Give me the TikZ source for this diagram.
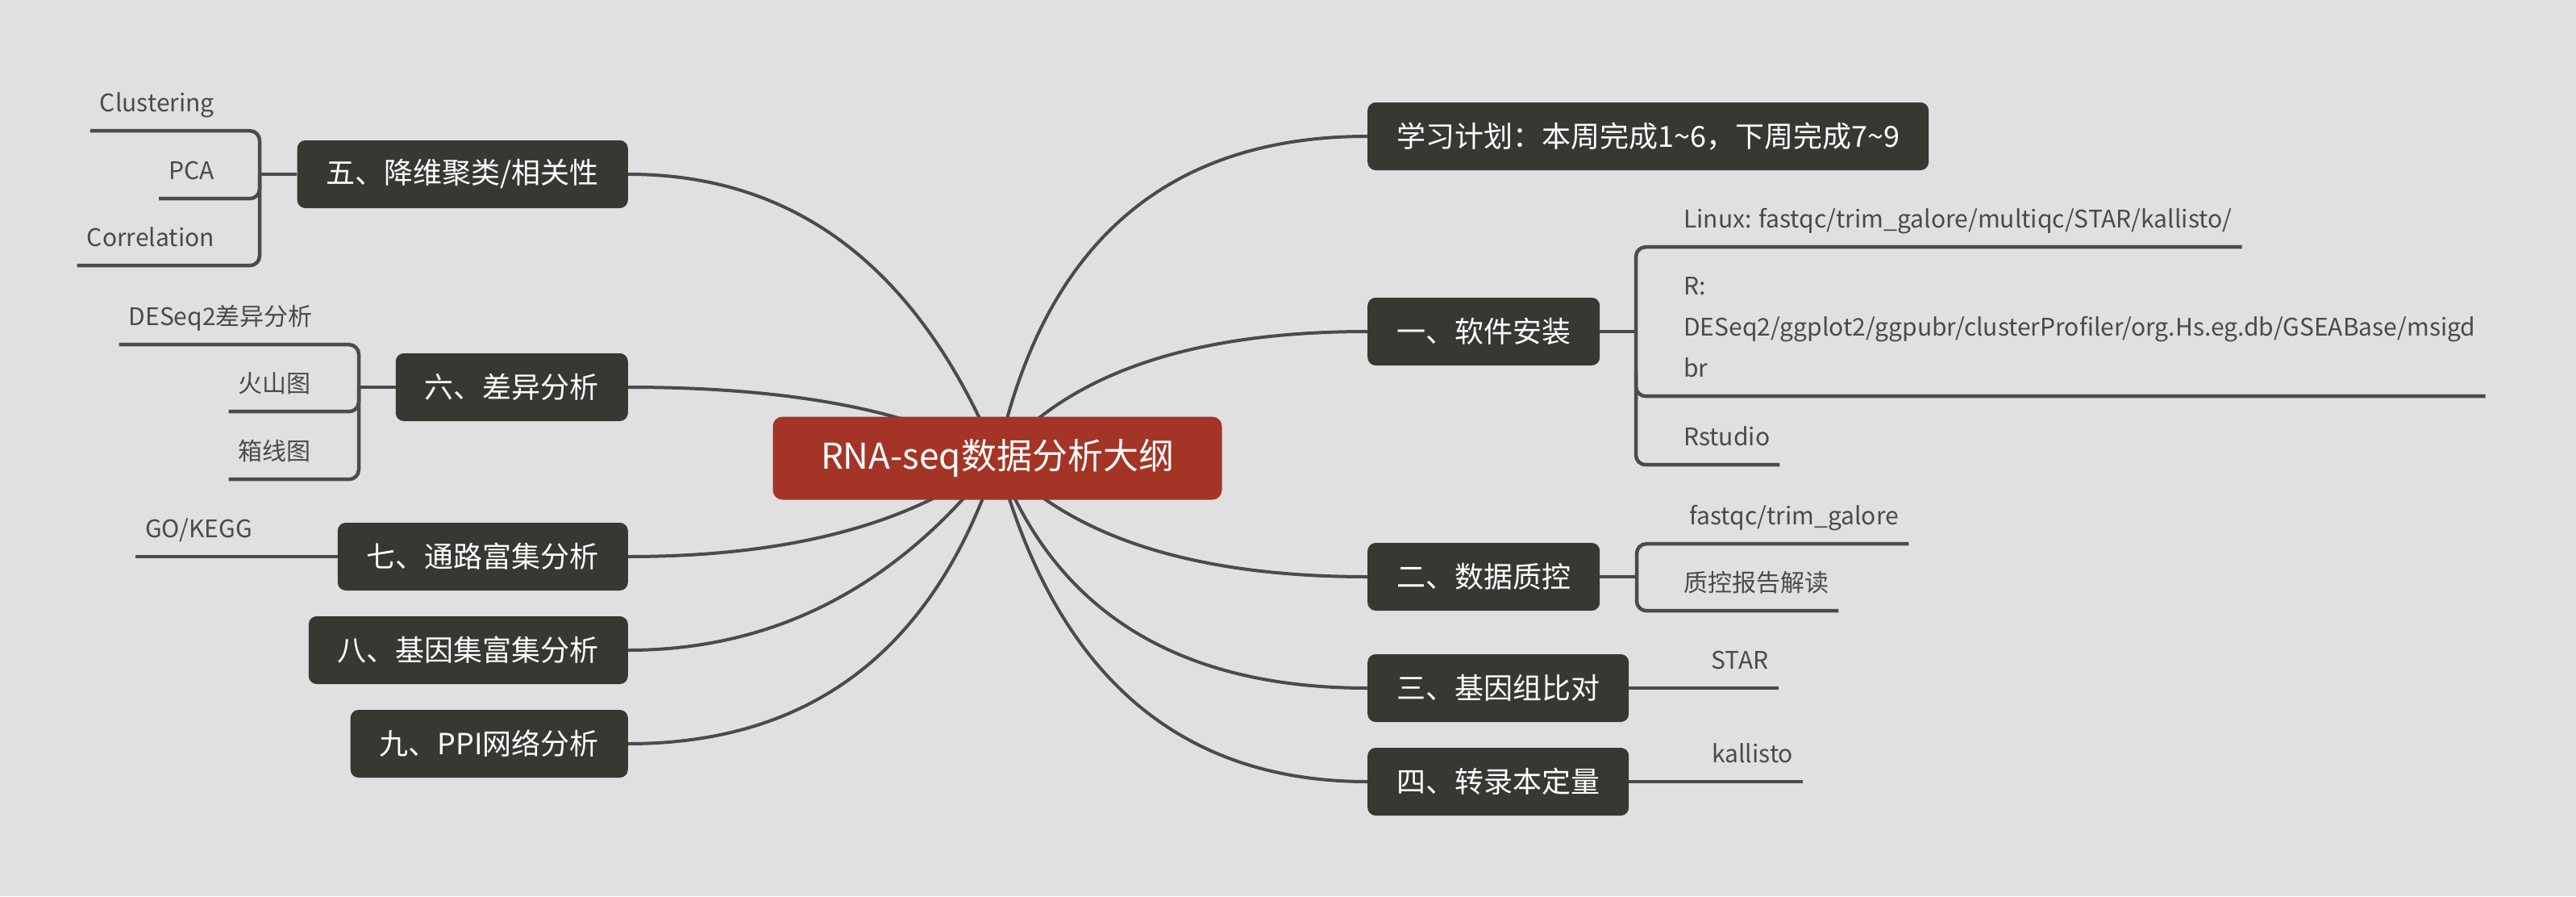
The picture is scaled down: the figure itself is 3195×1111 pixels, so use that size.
\documentclass[tikz,border=0pt]{standalone}
\usepackage{fontspec}
\setmainfont{Noto Sans CJK SC}
\usetikzlibrary{calc}
\definecolor{bgc}{HTML}{E0E0E0}
\definecolor{rootc}{HTML}{A43526}
\definecolor{topicc}{HTML}{383833}
\definecolor{linec}{HTML}{4A4A50}
\definecolor{leafc}{HTML}{4A4A4A}
\begin{document}
\begin{tikzpicture}[x=1pt,y=-1pt,
  conn/.style={line width=4pt, draw=linec},
  uline/.style={line width=4.5pt, draw=linec, rounded corners=12pt},
  topic/.style={fill=topicc, text=white, rounded corners=10pt, minimum height=84pt, inner xsep=36pt, inner ysep=0pt, font=\fontsize{36}{40}\selectfont},
  root/.style={fill=rootc, text=white, rounded corners=12pt, minimum height=103pt, minimum width=557pt, font=\fontsize{44}{50}\selectfont},
  leaf/.style={text=leafc, inner xsep=12pt, inner ysep=0pt, text height=30pt, text depth=24pt, font=\fontsize{30}{51}\selectfont}]
\fill[bgc] (0,0) rectangle (3195,1111);
\useasboundingbox (0,0) rectangle (3195,1111);

% main topics, right
\node[topic, anchor=west] (plan) at (1696,169) {学习计划：本周完成1\textasciitilde6，下周完成7\textasciitilde9};
\node[topic, anchor=west] (soft) at (1696,411) {一、软件安装};
\node[topic, anchor=west] (qc) at (1696,715) {二、数据质控};
\node[topic, anchor=west] (aln) at (1696,853) {三、基因组比对};
\node[topic, anchor=west] (quant) at (1696,969) {四、转录本定量};
% main topics, left
\node[topic, anchor=east] (dimr) at (779,216) {五、降维聚类/相关性};
\node[topic, anchor=east] (deg) at (779,480) {六、差异分析};
\node[topic, anchor=east] (enr) at (779,690) {七、通路富集分析};
\node[topic, anchor=east] (gsea) at (779,806) {八、基因集富集分析};
\node[topic, anchor=east] (ppi) at (779,922) {九、PPI网络分析};

% leaves of 一
\coordinate (b1) at (2029,411);
\node[leaf, anchor=base west] (linux) at (2076,282) {Linux: fastqc/trim\textunderscore galore/multiqc/STAR/kallisto/};
\node[leaf, anchor=base west] (rpk) at (2076,467) {\begin{tabular}[b]{@{}l@{}}R:\\DESeq2/ggplot2/ggpubr/clusterProfiler/org.Hs.eg.db/GSEABase/msigd\\br\end{tabular}};
\node[leaf, anchor=base west] (rstudio) at (2076,552) {Rstudio};
\draw[uline] (soft.east) -- (b1);
\draw[uline] (linux.south east) -- (b1 |- linux.south) -- (b1 |- rstudio.south) -- (rstudio.south east);
\draw[uline] ($(b1 |- rpk.south)+(0,-30)$) -- (b1 |- rpk.south) -- (rpk.south east);

% leaves of 二
\coordinate (b2) at (2030,715);
\node[leaf, anchor=base west] (fq) at (2083,650) {fastqc/trim\textunderscore galore};
\node[leaf, anchor=base west] (qcr) at (2076,733) {质控报告解读};
\draw[uline] (qc.east) -- (b2);
\draw[uline] (fq.south east) -- (b2 |- fq.south) -- (b2 |- qcr.south) -- (qcr.south east);

% leaves of 三, 四
\node[leaf, anchor=base west] (star) at (2110,829) {STAR};
\draw[uline] (aln.east) -- (aln.east -| star.east);
\node[leaf, anchor=base west] (kal) at (2111,945) {kallisto};
\draw[uline] (quant.east) -- (quant.east -| kal.east);

% leaves of 五
\coordinate (b5) at (322,216);
\node[leaf, anchor=base east] (clus) at (278,138) {Clustering};
\node[leaf, anchor=base east] (pca) at (278,222) {PCA};
\node[leaf, anchor=base east] (corr) at (278,305) {Correlation};
\draw[uline] (dimr.west) -- (b5);
\draw[uline] (clus.south west) -- (b5 |- clus.south) -- (b5 |- corr.south) -- (corr.south west);
\draw[uline] ($(b5 |- pca.south)+(0,-30)$) -- (b5 |- pca.south) -- (pca.south west);

% leaves of 六
\coordinate (b6) at (445,480);
\node[leaf, anchor=base east] (deseq) at (400,403) {DESeq2差异分析};
\node[leaf, anchor=base east] (volc) at (398,486) {火山图};
\node[leaf, anchor=base east] (boxp) at (398,570) {箱线图};
\draw[uline] (deg.west) -- (b6);
\draw[uline] (deseq.south west) -- (b6 |- deseq.south) -- (b6 |- boxp.south) -- (boxp.south west);
\draw[uline] ($(b6 |- volc.south)+(0,-30)$) -- (b6 |- volc.south) -- (volc.south west);

% leaf of 七
\node[leaf, anchor=base west] (gok) at (168,666) {GO/KEGG};
\draw[uline] (gok.south west) -- (gok.south west -| enr.west);

% curves from the central topic
\coordinate (o) at (1237,568);
\draw[conn] (o) .. controls (1294,302) and (1447,169) .. (plan.west);
\draw[conn] (o) .. controls (1325,463) and (1478,411) .. (soft.west);
\draw[conn] (o) .. controls (1328,666) and (1481,715) .. (qc.west);
\draw[conn] (o) .. controls (1308,758) and (1461,853) .. (aln.west);
\draw[conn] (o) .. controls (1308,835) and (1461,969) .. (quant.west);
\draw[conn] (o) .. controls (1140,333) and (988,216) .. (dimr.east);
\draw[conn] (o) .. controls (1134,509) and (981,480) .. (deg.east);
\draw[conn] (o) .. controls (1134,649) and (981,690) .. (enr.east);
\draw[conn] (o) .. controls (1114,727) and (961,806) .. (gsea.east);
\draw[conn] (o) .. controls (1160,804) and (1008,922) .. (ppi.east);

\node[root] (rt) at (o) {RNA-seq数据分析大纲};
\end{tikzpicture}
\end{document}
